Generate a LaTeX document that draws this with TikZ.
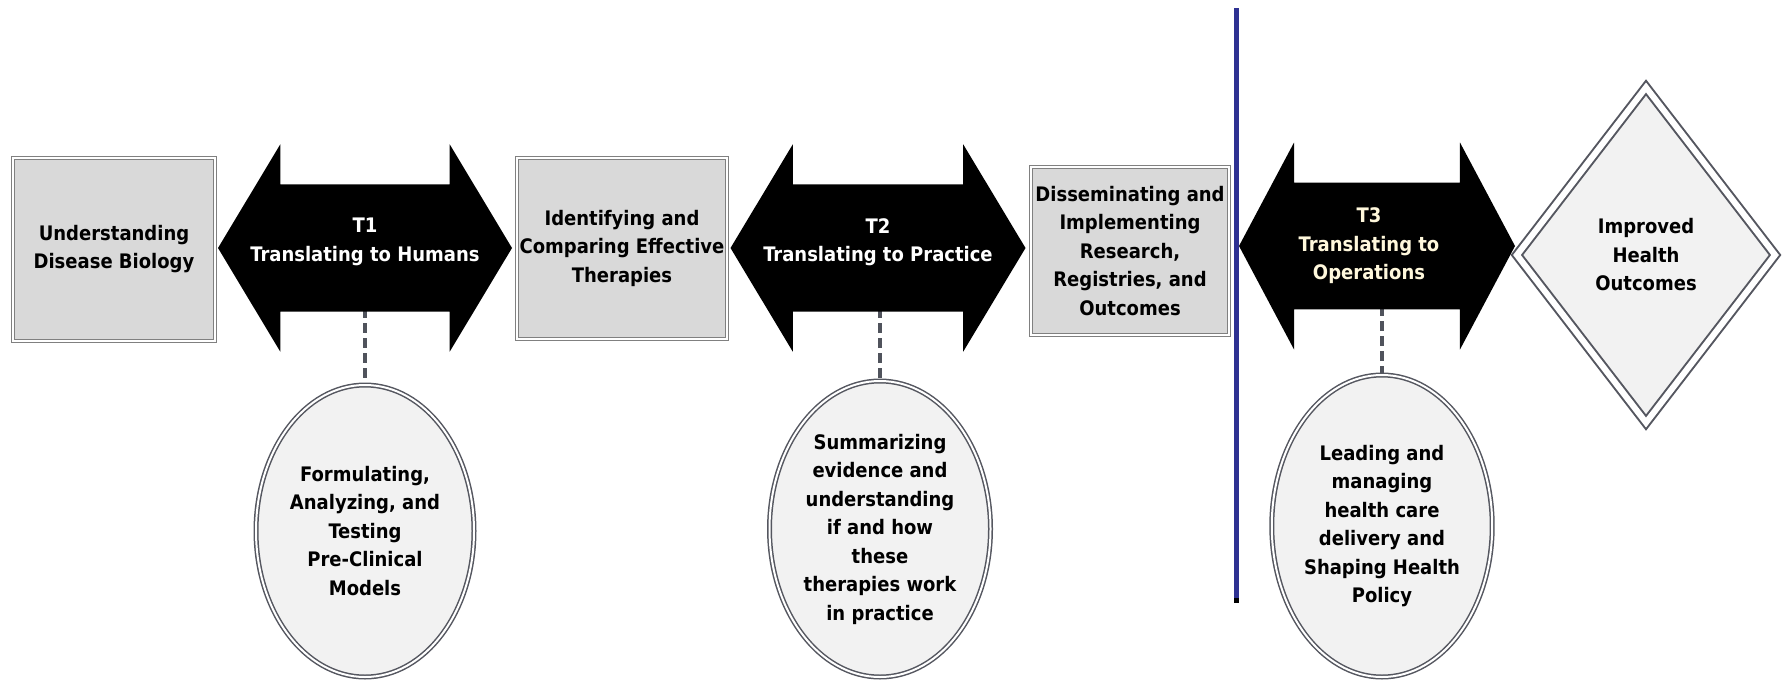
\documentclass[tikz,border=0pt]{standalone}
\usepackage{fontspec}
\setmainfont{DejaVu Sans Condensed}
\usetikzlibrary{shapes.geometric,shapes.arrows,backgrounds}

\definecolor{boxgray}{RGB}{217,217,217}
\definecolor{ovalgray}{RGB}{242,242,242}
\definecolor{rimgray}{RGB}{85,87,96}
\definecolor{dashgray}{RGB}{80,83,92}
\definecolor{barblue}{RGB}{46,49,146}
\definecolor{cream}{RGB}{255,248,220}

\newcommand{\shaft}[1]{\rule{0pt}{#1}}

\begin{document}
\begin{tikzpicture}[x=1pt,y=-1pt,font=\fontsize{20}{28.5}\selectfont\bfseries,
    stage/.style={rectangle,draw=gray,double=white,double distance=2pt,
                  line width=1pt,fill=boxgray,align=center,inner sep=0pt},
    oval/.style={ellipse,draw=rimgray,double=white,double distance=2pt,
                 line width=1.5pt,fill=ovalgray,align=center,inner sep=0pt},
    goal/.style={diamond,draw=rimgray,double=white,double distance=6pt,
                 line width=2pt,fill=ovalgray,align=center,inner sep=0pt,
                 minimum width=259pt,minimum height=336pt},
    bridge/.style={double arrow,fill=black,inner sep=0pt,minimum width=207pt,
                   double arrow head extend=40pt,double arrow head indent=0pt},
    bridgetext/.style={text=white,align=center,inner sep=0pt},
    link/.style={draw=dashgray,line width=3.5pt,dash pattern=on 10pt off 5pt}]

  \useasboundingbox (0,0) rectangle (1783,681);

  % stages
  \node[stage,minimum width=202pt,minimum height=183pt] (biology)   at (114,249)
       {Understanding\\Disease Biology};
  \node[stage,minimum width=210pt,minimum height=181pt] (therapies) at (622,248)
       {Identifying and\\Comparing Effective\\Therapies};
  \node[stage,minimum width=198pt,minimum height=168pt] (research)  at (1130,251)
       {Disseminating and\\Implementing\\Research,\\Registries, and\\Outcomes};
  \node[goal] (outcomes) at (1646,255) {Improved\\Health\\Outcomes};

  % translation blocks
  \node[bridge,minimum height=294pt,double arrow tip angle=118] (t1) at (365,248) {\shaft{127pt}};
  \node[bridgetext] (t1text) at ([yshift=6pt]t1) {T1\\Translating to Humans};
  \node[bridge,minimum height=295pt,double arrow tip angle=118] (t2) at (878,248) {\shaft{127pt}};
  \node[bridgetext] (t2text) at ([yshift=6pt]t2) {T2\\Translating to Practice};
  \node[bridge,minimum height=276pt,double arrow tip angle=124] (t3) at (1377,246) {\shaft{126pt}};
  \node[bridgetext,text=cream] (t3text) at ([xshift=-8pt]t3) {T3\\Translating to\\Operations};

  % activities
  \node[oval,minimum width=218pt,minimum height=292pt] (models)   at (365,531)
       {Formulating,\\Analyzing, and\\Testing\\Pre-Clinical\\Models};
  \node[oval,minimum width=221pt,minimum height=296pt] (evidence) at (880,529)
       {Summarizing\\evidence and\\understanding\\if and how\\these\\therapies work\\in practice};
  \node[oval,minimum width=212pt,minimum height=302pt] (policy)   at (1382,526)
       {Leading and\\managing\\health care\\delivery and\\Shaping Health\\Policy};

  \begin{scope}[on background layer]
    \draw[link] (models.north |- t1.center) -- (models.north);
    \draw[link] (evidence.north |- t2.center) -- (evidence.north);
    \draw[link] (policy.north |- t3.center) -- (policy.north);
  \end{scope}

  % divider
  \coordinate (bartop) at (1236,8);
  \coordinate (barend) at (1236,603);
  \draw[barblue,line width=5pt] (bartop) -- (barend);
  \draw[black,line width=5pt] ([yshift=5pt]barend) -- (barend);
\end{tikzpicture}
\end{document}
